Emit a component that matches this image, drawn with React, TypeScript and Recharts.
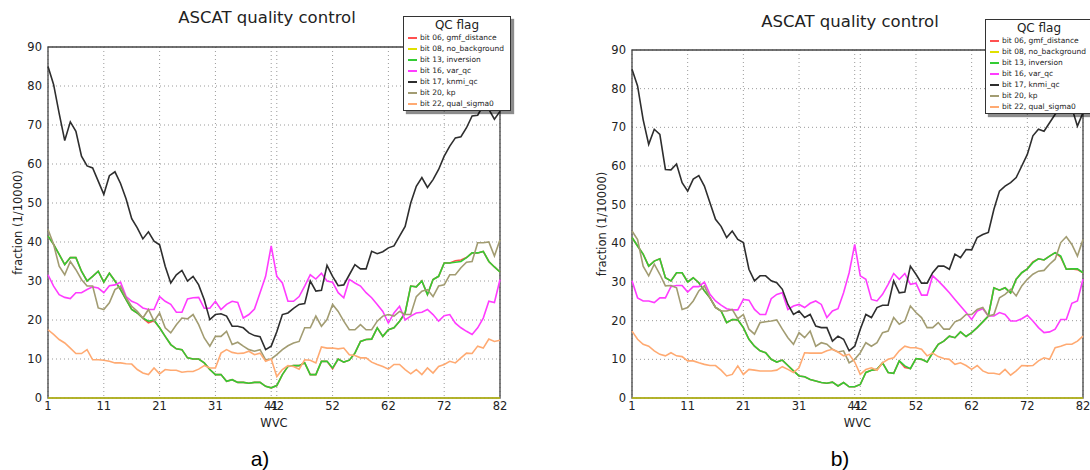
import React from 'react';
import { LineChart, Line, XAxis, YAxis, CartesianGrid, Legend, ReferenceArea } from 'recharts';

const FONT = '"DejaVu Sans", sans-serif';

// Wind vector cell numbers
const wvc = [
  1, 2, 3, 4, 5, 6, 7, 8, 9, 10, 11, 12, 13, 14, 15, 16, 17, 18, 19, 20,
  21, 22, 23, 24, 25, 26, 27, 28, 29, 30, 31, 32, 33, 34, 35, 36, 37, 38, 39, 40,
  41, 42, 43, 44, 45, 46, 47, 48, 49, 50, 51, 52, 53, 54, 55, 56, 57, 58, 59, 60,
  61, 62, 63, 64, 65, 66, 67, 68, 69, 70, 71, 72, 73, 74, 75, 76, 77, 78, 79, 80,
  81, 82,
];
const wvcTicks = [1, 11, 21, 31, 41, 42, 52, 62, 72, 82];
const fractionTicks = [0, 10, 20, 30, 40, 50, 60, 70, 80, 90];

const seriesKeys = ['gmf', 'nobg', 'inv', 'varqc', 'knmi', 'kp', 'qs'];
const seriesNames = [
  'bit 06, gmf_distance',
  'bit 08, no_background',
  'bit 13, inversion',
  'bit 16, var_qc',
  'bit 17, knmi_qc',
  'bit 20, kp',
  'bit 22, qual_sigma0',
];
const seriesColors = ['#ff5050', '#e0e000', '#33cc33', '#ff3cff', '#2e2e2e', '#a29c72', '#ffaa72'];

// ---- panel a ----
const gmfA = [
  41.5, 39.4, 36.8, 34.2, 36, 36, 32.5, 30, 31.2, 32.5, 29.7, 32, 30, 27.8, 25.2, 22.7, 21.8, 20.5, 19.3, 19.8,
  18, 15.8, 13.7, 12.6, 12.4, 10.3, 10, 10, 9, 7.3, 6, 6, 4.3, 4.7, 4, 4, 3.8, 4, 4, 3,
  2.6, 3.2, 6, 8.1, 8.3, 8.3, 9, 6, 6, 9.4, 9.4, 7.5, 10, 9.2, 9.7, 11.5, 14.5, 15, 15.1, 18,
  15.8, 17.5, 18, 19.7, 21.8, 28.7, 28.5, 30, 26.5, 30.4, 31.2, 34.6, 34.6, 35.2, 35.4, 36, 37.2, 37.2, 37.6, 35,
  33.6, 32.3,
];
const noBgA = [
  0, 0, 0, 0, 0, 0, 0, 0, 0, 0, 0, 0, 0, 0, 0, 0, 0, 0, 0, 0,
  0, 0, 0, 0, 0, 0, 0, 0, 0, 0, 0, 0, 0, 0, 0, 0, 0, 0, 0, 0,
  0, 0, 0, 0, 0, 0, 0, 0, 0, 0, 0, 0, 0, 0, 0, 0, 0, 0, 0, 0,
  0, 0, 0, 0, 0, 0, 0, 0, 0, 0, 0, 0, 0, 0, 0, 0, 0, 0, 0, 0,
  0, 0,
];
const inversionA = [
  41.5, 39.4, 36.8, 34.2, 36, 36, 32.5, 30, 31.2, 32.5, 29.7, 32, 30, 27.8, 25.2, 22.7, 21.8, 20.5, 19.7, 20,
  18, 15.8, 13.7, 12.6, 12.4, 10.3, 10, 10, 9, 7.3, 6, 6, 4.3, 4.7, 4, 4, 3.8, 4, 4, 3,
  2.6, 3.2, 6, 8.1, 8.3, 8.3, 9, 6, 6, 9.4, 9.4, 7.7, 10, 9.2, 9.7, 11.5, 14.5, 15, 15.1, 18,
  15.8, 17.5, 18, 19.7, 21.8, 28.7, 28.5, 30, 26.5, 30.4, 31.2, 34.6, 34.6, 34.8, 35, 36, 37.2, 37.2, 37.6, 35,
  33.6, 32.3,
];
const varQcA = [
  31.6, 28.7, 26.5, 25.8, 25.5, 27, 27, 27.8, 28.5, 28.2, 27, 28.8, 29, 29.7, 26, 24.8, 24.2, 23.1, 22.7, 22.7,
  26, 24.8, 24, 22, 22, 25.4, 25.7, 25.8, 23, 23, 24.8, 22.7, 24, 24.8, 24.5, 20.5, 21.4, 22.8, 27, 31.2,
  39, 31.2, 29.5, 24.8, 24.8, 26, 28.7, 31.6, 30.5, 32, 30, 29.7, 27, 25.7, 30.4, 29.5, 28.7, 27, 25.7, 24,
  22.2, 19.2, 21.8, 23.5, 20, 21, 21.8, 22, 22.7, 21.4, 19.7, 21.1, 21.4, 19.2, 18, 17.1, 16.3, 18, 20.5, 24.8,
  24.5, 30.4,
];
const knmiA = [
  85, 80.4, 73, 66, 70.8, 68.4, 62, 59.5, 59, 55.6, 52.2, 57, 58, 55, 51, 46, 43.6, 40.8, 42.6, 40.2,
  39.3, 33.8, 29.5, 31.6, 32.7, 30, 31.2, 29, 25.2, 20.1, 21.4, 21.6, 21, 18.4, 18.4, 18, 16.7, 16, 15.7, 12.4,
  13.3, 17, 21.4, 21.8, 23, 24, 24.2, 30, 27.4, 27.6, 34, 31.2, 28.8, 29, 31.6, 34.2, 33.1, 33.1, 37.6, 37,
  37.5, 38.5, 39, 41.5, 44, 50, 54.3, 56.5, 54, 56, 58.6, 62, 64.6, 66.7, 67, 69.3, 72.3, 72.5, 75, 74,
  71.5, 73.5,
];
const kpA = [
  43.2, 39.4, 33.8, 31.6, 35, 32.9, 30.4, 28.7, 28.7, 23.1, 22.7, 24.4, 27.8, 28.7, 25.7, 23.5, 22.2, 20.5, 22.7, 19.7,
  21.8, 18, 16.7, 18.8, 20.5, 20.3, 21.4, 18.8, 15.4, 13.3, 15.8, 15.8, 17.1, 13.7, 14.3, 13.3, 12.4, 12, 12.4, 9.8,
  10, 11.1, 12.4, 13.4, 14.1, 14.5, 18, 18, 21, 18.4, 20.1, 24, 22.2, 19.7, 17.5, 17.5, 18.8, 17.5, 17.5, 19.7,
  21, 21.4, 21, 22.2, 21.4, 21.4, 26, 27.4, 27.8, 26, 28.7, 29, 31.6, 31.6, 33.4, 34.8, 35, 39.8, 39.8, 40,
  36.4, 40.6,
];
const sigma0A = [
  17.5, 16.3, 15, 14.1, 12.8, 11.4, 11.4, 12.4, 9.8, 9.8, 9.7, 9.4, 9, 9, 8.8, 8.7, 7.3, 6.4, 6, 7.7,
  6.2, 7.3, 7.1, 7.1, 6.6, 6.8, 6.8, 7.4, 8.3, 7.7, 7.7, 11.5, 12.4, 11.7, 11.4, 11.5, 12, 11.1, 11.5, 9.4,
  10, 5.5, 7.3, 8.3, 8.1, 7.4, 9.8, 9.7, 9, 13.1, 12.8, 12.8, 12.6, 12.8, 11.1, 10.9, 10.3, 10.3, 9.2, 8.6,
  8.1, 7.4, 8.6, 8.6, 7.3, 6.2, 7.3, 6, 7.7, 6.4, 8.1, 8.6, 9.4, 9, 10.3, 11.5, 11.4, 13.3, 12.8, 15.1,
  14.5, 14.8,
];

// ---- panel b ----
const gmfB = [
  41.5, 39.3, 37.2, 34.1, 35.4, 36, 31.1, 30.3, 32.4, 32.4, 30, 31.1, 29.8, 27.7, 25.9, 23.4, 22.5, 19.5, 20.3, 20.2,
  18.2, 15.2, 13.4, 12.2, 11.7, 10, 9.3, 9.8, 8.4, 7, 5.7, 5.5, 4.8, 4.4, 4, 3.8, 4.1, 3.1, 4, 2.9,
  2.9, 3.5, 6.6, 7.2, 7.4, 9.1, 6.6, 6.4, 9.6, 7.9, 7.6, 10.2, 10, 9.3, 11.7, 13.9, 14.7, 16, 15.6, 17.1,
  15.9, 16.9, 18.2, 19.7, 21.2, 28.5, 27.9, 28.5, 27.2, 30.7, 32.4, 33.4, 35.2, 36, 35.7, 36.7, 37.6, 36.4, 33.3, 33.4,
  33.2, 32.4,
];
const noBgB = [
  0, 0, 0, 0, 0, 0, 0, 0, 0, 0, 0, 0, 0, 0, 0, 0, 0, 0, 0, 0,
  0, 0, 0, 0, 0, 0, 0, 0, 0, 0, 0, 0, 0, 0, 0, 0, 0, 0, 0, 0,
  0, 0, 0, 0, 0, 0, 0, 0, 0, 0, 0, 0, 0, 0, 0, 0, 0, 0, 0, 0,
  0, 0, 0, 0, 0, 0, 0, 0, 0, 0, 0, 0, 0, 0, 0, 0, 0, 0, 0, 0,
  0, 0,
];
const inversionB = [
  41.5, 39.3, 37.2, 34.1, 35.4, 36, 31.1, 30.3, 32.4, 32.4, 30, 31.1, 29.8, 27.7, 25.9, 23.4, 22.5, 19.5, 20.3, 20.2,
  18.2, 15.2, 13.4, 12.2, 11.7, 10, 9.3, 9.8, 8.4, 7, 5.7, 5.5, 4.8, 4.4, 4, 3.8, 4.1, 3.1, 4, 2.9,
  2.9, 3.5, 6.6, 7.2, 7.4, 9.1, 6.6, 6.4, 9.6, 8.3, 7.6, 10.2, 10, 9.3, 11.7, 13.9, 14.7, 16, 15.6, 17.1,
  15.9, 16.9, 18.2, 19.7, 21.2, 28.5, 27.9, 28.5, 27.2, 30.7, 32.4, 33.4, 35, 36, 35.7, 36.7, 37.6, 36.7, 33.3, 33.4,
  33.4, 32.4,
];
const varQcB = [
  30.3, 25.9, 25.1, 25.1, 24.7, 25.9, 25.9, 28.8, 29.1, 29.1, 27.4, 28.8, 28.8, 30, 26.8, 25.1, 24, 23.1, 22.8, 22.8,
  25.5, 25.3, 22.9, 21.6, 21.6, 25.7, 26.8, 27.2, 22.9, 23.8, 24.2, 23.4, 24.5, 25.1, 24.2, 20.8, 22.5, 23.1, 27.2, 32.4,
  39.7, 31.6, 30.7, 25.5, 25.1, 26.8, 29.4, 32.2, 30.7, 32.2, 29.4, 29.7, 26.6, 26.6, 31.6, 30.3, 28.8, 27.2, 25.5, 23.8,
  22.1, 20.3, 22.5, 23.1, 21.2, 21.2, 22.1, 21.6, 19.9, 19.9, 20.5, 21.4, 19.9, 18.2, 16.9, 17.1, 17.8, 20.3, 20.3, 24.5,
  25.1, 30.7,
];
const knmiB = [
  85, 80.7, 72, 65.6, 69.5, 68.2, 59.1, 59, 60.5, 55.7, 53.5, 56.6, 57.5, 54.8, 50.5, 46.2, 44.4, 41.5, 43.2, 41,
  40.2, 33.3, 30.3, 31.6, 31.6, 30.3, 29.8, 28.1, 24.2, 21.6, 22.5, 20.8, 21.6, 18.6, 18.2, 18.2, 14.7, 16, 15.2, 12.2,
  13.4, 17.8, 21.6, 20.8, 23.4, 24, 24, 30.3, 27.2, 27.4, 34.1, 32, 29.7, 29.7, 32.4, 34.1, 34.1, 33.3, 37.2, 36.3,
  38.4, 38.3, 41.5, 42.3, 42.8, 48.8, 53.5, 54.8, 55.7, 57, 60, 63, 67.8, 69.5, 69, 71.2, 73.4, 74.7, 76.4, 75,
  70.3, 73.8,
];
const kpB = [
  43.2, 41, 34.1, 31.6, 34.6, 32, 29, 29.1, 28.5, 22.9, 23.4, 25.1, 27.7, 29, 25.9, 23.4, 22.5, 22.5, 22.9, 20.5,
  21.6, 17.8, 16.5, 19.5, 19.7, 19.9, 20.2, 17.8, 15.6, 13.9, 16.9, 15.6, 17.3, 13.4, 14.3, 13.9, 12.6, 11.9, 12.2, 9.1,
  10, 11.7, 14.3, 13.4, 14.3, 16.9, 17.3, 20.8, 19.1, 19.9, 23.8, 22.1, 20.8, 18.2, 18.2, 19.5, 17.8, 17.8, 19.7, 20.3,
  21.6, 21.6, 22.9, 23.4, 21.2, 21.6, 25.9, 26.8, 28.1, 26.4, 29, 30.7, 32, 32.8, 33, 34.6, 35.9, 40.2, 41.7, 39.7,
  36.7, 41,
];
const sigma0B = [
  17.3, 15.2, 13.9, 13.4, 12.2, 11.3, 10.9, 11.7, 10.9, 10.7, 9.6, 9.6, 9.1, 8.7, 8.4, 8.4, 7.2, 5.7, 6.1, 8.3,
  6.1, 7.4, 7.2, 7, 7, 7, 7.2, 8.1, 7.4, 6.6, 7.8, 11.7, 11.6, 11.6, 11.6, 12.2, 12.6, 11.9, 10.9, 11.3,
  9.3, 6.1, 7.4, 7.8, 7.2, 9.1, 10, 10.4, 12.2, 13.4, 13, 13, 12.6, 10.9, 11.6, 10.7, 10.2, 10, 8.7, 9.1,
  8.4, 7.4, 8.4, 7, 6.4, 6.4, 6.1, 7.4, 5.9, 7, 8.4, 8.3, 8.4, 9.6, 10.4, 10, 13, 13.4, 13.9, 13.9,
  14.7, 16,
];

function buildRows(columns: number[][]) {
  return wvc.map((w, i) => {
    const row: Record<string, number> = { wvc: w };
    seriesKeys.forEach((key, j) => {
      row[key] = columns[j][i];
    });
    return row;
  });
}

const rowsA = buildRows([gmfA, noBgA, inversionA, varQcA, knmiA, kpA, sigma0A]);
const rowsB = buildRows([gmfB, noBgB, inversionB, varQcB, knmiB, kpB, sigma0B]);

// Legend box: the swatch colour is looked up by series name so it always
// matches the stroke of the plotted line.
const QcLegend = (props: any) => {
  const payload: any[] = props.payload || [];
  return (
    <div
      style={{
        width: '100%',
        height: '100%',
        boxSizing: 'border-box',
        border: '1px solid #333',
        background: '#fff',
        boxShadow: '3px 3px 1px rgba(0,0,0,0.45)',
        fontFamily: FONT,
        color: '#222',
      }}
    >
      <div style={{ textAlign: 'center', fontSize: 12, lineHeight: '14px', height: 14, paddingTop: 1 }}>QC flag</div>
      {payload.map((entry) => {
        const idx = seriesNames.indexOf(String(entry.value));
        const color = idx >= 0 ? seriesColors[idx] : entry.color;
        return (
          <div
            key={String(entry.value)}
            style={{ display: 'flex', alignItems: 'center', height: 11, fontSize: 7.5, whiteSpace: 'nowrap' }}
          >
            <div
              style={{
                width: 9,
                height: 2,
                flex: '0 0 auto',
                backgroundColor: color,
                marginLeft: 4,
                marginRight: 3,
              }}
            />
            <span>{entry.value}</span>
          </div>
        );
      })}
    </div>
  );
};

type PanelProps = {
  rows: Record<string, number>[];
  left: number;
  margin: { top: number; right: number; bottom: number; left: number };
  legendLeft: number;
  legendTop: number;
  titleX: number;
  titleY: number;
  letter: string;
  letterX: number;
};

function Panel({ rows, left, margin, legendLeft, legendTop, titleX, titleY, letter, letterX }: PanelProps) {
  return (
    <div style={{ position: 'absolute', left, top: 0, width: 545, height: 470 }}>
      <LineChart width={545} height={470} data={rows} margin={margin}>
        <CartesianGrid stroke="#9a9a9a" strokeDasharray="1 3" />
        <XAxis
          dataKey="wvc"
          type="number"
          domain={[1, 82]}
          ticks={wvcTicks}
          interval={0}
          height={31}
          axisLine={false}
          tickLine={false}
          tickSize={3}
          tickMargin={1}
          tick={{ fontSize: 11.5, fill: '#222', fontFamily: FONT }}
          label={{ value: 'WVC', position: 'insideBottom', offset: 2, fontSize: 11.5, fill: '#222', fontFamily: FONT }}
        />
        <YAxis
          type="number"
          domain={[0, 90]}
          ticks={fractionTicks}
          width={40}
          axisLine={false}
          tickLine={false}
          tickSize={4}
          tickMargin={2}
          tick={{ fontSize: 11.5, fill: '#222', fontFamily: FONT }}
          label={{
            value: 'fraction (1/10000)',
            angle: -90,
            position: 'insideLeft',
            offset: 10,
            fontSize: 11.5,
            fill: '#222',
            fontFamily: FONT,
            style: { textAnchor: 'middle' },
          }}
        />
        <ReferenceArea x1={1} x2={82} y1={0} y2={90} fill="none" stroke="#444" strokeWidth={1.3} />
        {seriesKeys.map((key, i) => (
          <Line
            key={key}
            dataKey={key}
            name={seriesNames[i]}
            type="linear"
            stroke={seriesColors[i]}
            strokeWidth={key === 'nobg' ? 2 : 1.6}
            strokeOpacity={key === 'nobg' ? 0.6 : 1}
            dot={false}
            activeDot={false}
            isAnimationActive={false}
          />
        ))}
        <Legend
          layout="vertical"
          align="center"
          verticalAlign="middle"
          content={QcLegend}
          wrapperStyle={{ left: legendLeft, top: legendTop, width: 108, height: 95 }}
        />
      </LineChart>
      <div
        style={{
          position: 'absolute',
          left: titleX - 150,
          top: titleY - 10,
          width: 300,
          textAlign: 'center',
          fontFamily: FONT,
          fontSize: 16.5,
          lineHeight: '20px',
          color: '#222',
        }}
      >
        ASCAT quality control
      </div>
      <div
        style={{
          position: 'absolute',
          left: letterX - 30,
          top: 447,
          width: 60,
          textAlign: 'center',
          fontFamily: '"Liberation Sans", Arial, sans-serif',
          fontSize: 21,
          lineHeight: '24px',
          color: '#000',
        }}
      >
        {letter}
      </div>
    </div>
  );
}

export default function App() {
  return (
    <div
      style={{
        position: 'absolute',
        left: 0,
        top: 0,
        width: 1090,
        height: 470,
        overflow: 'hidden',
        background: '#fff',
      }}
    >
      <Panel
        rows={rowsA}
        left={0}
        margin={{ top: 47, right: 45, bottom: 41, left: 8 }}
        legendLeft={403}
        legendTop={16}
        titleX={267}
        titleY={18}
        letter="a)"
        letterX={260}
      />
      <Panel
        rows={rowsB}
        left={545}
        margin={{ top: 50, right: 7, bottom: 41, left: 47 }}
        legendLeft={440}
        legendTop={19}
        titleX={305}
        titleY={22}
        letter="b)"
        letterX={295}
      />
    </div>
  );
}
